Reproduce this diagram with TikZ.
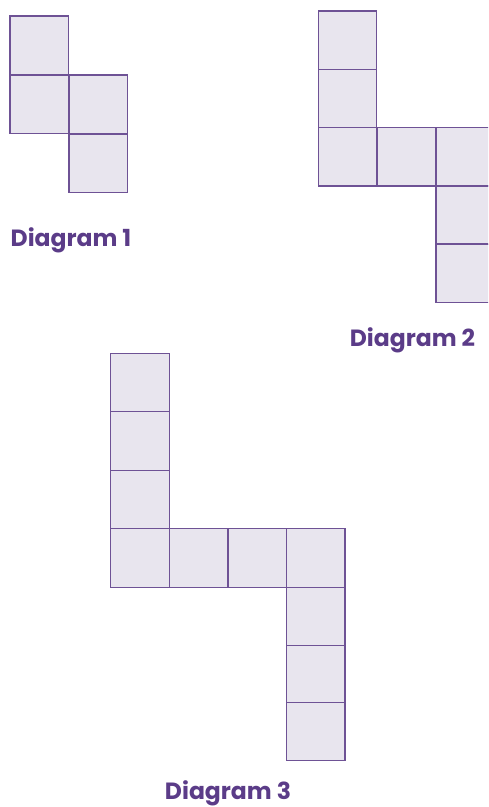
\documentclass[tikz,border=0pt]{standalone}
\usepackage{fontspec}
\setmainfont{Poppins}
\definecolor{sqfill}{HTML}{E8E5EE}
\definecolor{sqline}{HTML}{6E5295}
\definecolor{labcol}{HTML}{5B3C88}
\begin{document}
\begin{tikzpicture}[x=1pt,y=-1pt,
  sq/.style={draw=sqline,fill=sqfill,line width=1.4pt,minimum size=58.5pt,inner sep=0pt,outer sep=0pt,anchor=north west},
  lab/.style={text=labcol,font=\fontsize{23.5}{27}\selectfont\bfseries,inner sep=0pt}]
\useasboundingbox (0,0) rectangle (488,807);
\begin{scope}
\clip (0,0) rectangle (488,807);
% Diagram 1
\node[sq] (a1) at (10,16) {};
\node[sq] (a2) at (10,75) {};
\node[sq] (a3) at (69,75) {};
\node[sq] (a4) at (69,134) {};
\node[lab] (l1) at (71,240) {Diagram 1};
% Diagram 2
\node[sq,minimum size=58.2pt] (b1) at (318.5,11) {};
\node[sq,minimum size=58.2pt] (b2) at (318.5,69.3) {};
\node[sq,minimum size=58.2pt] (b3) at (318.5,127.6) {};
\node[sq,minimum size=58.2pt] (b4) at (377.5,127.6) {};
\node[sq,minimum size=58.2pt] (b5) at (436,127.6) {};
\node[sq,minimum size=58.2pt] (b6) at (436,186) {};
\node[sq,minimum size=58.2pt] (b7) at (436,244) {};
\node[lab] (l2) at (412.5,340) {Diagram 2};
% Diagram 3
\node[sq,minimum size=58.5pt] (c1) at (110.7,353.3) {};
\node[sq,minimum size=58.5pt] (c2) at (110.7,411.7) {};
\node[sq,minimum size=58.5pt] (c3) at (110.7,470.2) {};
\node[sq,minimum size=58.5pt] (c4) at (110.7,528.7) {};
\node[sq,minimum size=58.5pt] (c5) at (169.2,528.7) {};
\node[sq,minimum size=58.5pt] (c6) at (227.8,528.7) {};
\node[sq,minimum size=58.5pt] (c7) at (286.5,528.7) {};
\node[sq,minimum size=58.5pt] (c8) at (286.5,587.2) {};
\node[sq,minimum size=58.5pt] (c9) at (286.5,645.7) {};
\node[sq,minimum size=58.5pt] (c10) at (286.5,702.2) {};
\node[lab] (l3) at (228,793.5) {Diagram 3};
\end{scope}
\end{tikzpicture}
\end{document}
